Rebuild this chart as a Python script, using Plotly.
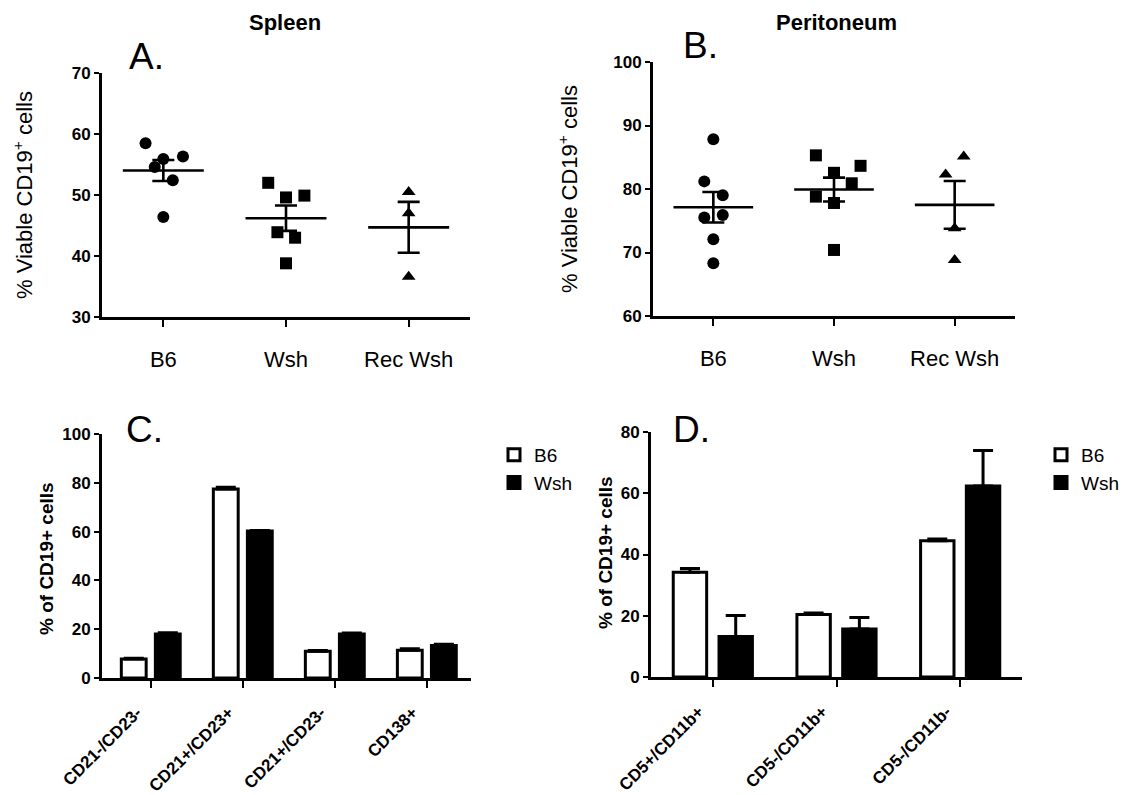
import numpy as np
import plotly.graph_objects as go

# ---------------- data ----------------
groups = ["B6", "Wsh", "Rec Wsh"]

# Panel A: Spleen, % viable CD19+ cells
spleen_b6 = [58.5, 55.9, 54.6, 56.3, 52.4, 46.4]
spleen_wsh = [52.0, 49.6, 49.9, 43.9, 43.0, 38.8]
spleen_rec = [50.5, 47.0, 36.6]
spleen_b6_jit = [-0.145, 0.0, -0.07, 0.16, 0.077, 0.0]
spleen_wsh_jit = [-0.145, 0.0, 0.15, -0.07, 0.074, 0.0]
spleen_rec_jit = [0.0, 0.0, 0.0]

# Panel B: Peritoneum, % viable CD19+ cells
perit_b6 = [87.85, 81.2, 79.0, 75.5, 75.9, 72.1, 68.3]
perit_wsh = [85.3, 82.55, 83.65, 80.9, 78.8, 77.8, 70.4]
perit_rec = [85.1, 82.3, 73.8, 68.8]
perit_b6_jit = [0.0, -0.075, 0.078, -0.075, 0.078, 0.0, 0.0]
perit_wsh_jit = [-0.15, 0.0, 0.22, 0.147, -0.15, 0.0, 0.0]
perit_rec_jit = [0.075, -0.075, 0.0, 0.0]

# Panel C: spleen subsets, % of CD19+ cells (mean, upper SEM)
spleen_subsets = ["CD21-/CD23-", "CD21+/CD23+", "CD21+/CD23-", "CD138+"]
spleen_b6_pct = [7.8, 77.5, 11.0, 11.4]
spleen_b6_err = [0.3, 0.7, 0.3, 0.6]
spleen_wsh_pct = [18.0, 60.2, 18.0, 13.3]
spleen_wsh_err = [0.5, 0.2, 0.4, 0.5]

# Panel D: peritoneal subsets, % of CD19+ cells (mean, upper SEM)
perit_subsets = ["CD5+/CD11b+", "CD5-/CD11b+", "CD5-/CD11b-"]
perit_b6_pct = [34.2, 20.4, 44.5]
perit_b6_err = [1.2, 0.5, 0.6]
perit_wsh_pct = [13.2, 15.7, 62.4]
perit_wsh_err = [6.9, 3.7, 11.6]

# ---------------- layout helpers ----------------
W, H = 1129, 795
FONT = "Liberation Sans, Arial, Helvetica, sans-serif"


def fx(p):
    return p / W


def fy(p):
    return 1 - p / H


fig = go.Figure()


def add_dot_panel(series, jitters, symbols, xa, ya):
    for i, (vals, jit, sym) in enumerate(zip(series, jitters, symbols)):
        xs = [i + j for j in jit]
        fig.add_trace(go.Scatter(
            x=xs, y=vals, mode="markers", xaxis=xa, yaxis=ya,
            marker=dict(symbol=sym, size=12, color="black", line=dict(width=0)),
            showlegend=False, name=groups[i]))
        arr = np.asarray(vals, dtype=float)
        mean = float(arr.mean())
        sem = float(arr.std(ddof=1) / np.sqrt(len(arr)))
        fig.add_trace(go.Scatter(
            x=[i], y=[mean], mode="markers", xaxis=xa, yaxis=ya,
            marker=dict(size=2, color="rgba(0,0,0,0)"),
            error_x=dict(type="constant", value=0.33, width=0, thickness=2.6, color="black"),
            error_y=dict(type="constant", value=sem, width=11, thickness=2.6, color="black"),
            showlegend=False, name=groups[i] + " mean"))


add_dot_panel([spleen_b6, spleen_wsh, spleen_rec],
              [spleen_b6_jit, spleen_wsh_jit, spleen_rec_jit],
              ["circle", "square", "triangle-up"], "x", "y")
add_dot_panel([perit_b6, perit_wsh, perit_rec],
              [perit_b6_jit, perit_wsh_jit, perit_rec_jit],
              ["circle", "square", "triangle-up"], "x2", "y2")


def add_bar_panel(cats, b6, b6e, wsh, wshe, xa, ya, legend):
    fig.add_trace(go.Bar(
        x=cats, y=b6, name="B6", xaxis=xa, yaxis=ya, legend=legend,
        marker=dict(color="white", line=dict(color="black", width=3)),
        error_y=dict(type="data", array=b6e, arrayminus=[0] * len(b6e), symmetric=False,
                     width=10, thickness=3, color="black")))
    fig.add_trace(go.Bar(
        x=cats, y=wsh, name="Wsh", xaxis=xa, yaxis=ya, legend=legend,
        marker=dict(color="black", line=dict(color="black", width=3)),
        error_y=dict(type="data", array=wshe, arrayminus=[0] * len(wshe), symmetric=False,
                     width=10, thickness=3, color="black")))


add_bar_panel(spleen_subsets, spleen_b6_pct, spleen_b6_err, spleen_wsh_pct, spleen_wsh_err,
              "x3", "y3", "legend")
add_bar_panel(perit_subsets, perit_b6_pct, perit_b6_err, perit_wsh_pct, perit_wsh_err,
              "x4", "y4", "legend2")

axis_common = dict(showline=True, linecolor="black", linewidth=3, showgrid=False,
                   zeroline=False, ticks="outside", tickcolor="black", tickwidth=2,
                   mirror=False, automargin=False, layer="above traces")

xcat = dict(axis_common, tickmode="array", tickvals=[0, 1, 2], ticktext=groups,
            range=[-0.5, 2.5], ticklen=7, tickfont=dict(family=FONT, size=22, color="black"),
            ticklabelstandoff=14)
ybold = dict(family=FONT, size=17, color="black", weight="bold")
xrot = dict(family=FONT, size=17, color="black", weight="bold")

fig.update_layout(
    template="none",
    width=W, height=H, margin=dict(l=0, r=0, t=0, b=0, autoexpand=False),
    paper_bgcolor="white", plot_bgcolor="white",
    font=dict(family=FONT, color="black"),
    barmode="group", bargap=0.26, bargroupgap=0.27,
    xaxis=dict(xcat, domain=[fx(102), fx(470)], anchor="y"),
    yaxis=dict(axis_common, domain=[fy(317), fy(73)], anchor="x", range=[30, 70],
               tickvals=[30, 40, 50, 60, 70], ticklen=5, tickfont=ybold),
    xaxis2=dict(xcat, domain=[fx(653), fx(1015)], anchor="y2"),
    yaxis2=dict(axis_common, domain=[fy(316), fy(62)], anchor="x2", range=[60, 100],
                tickvals=[60, 70, 80, 90, 100], ticklen=5, tickfont=ybold),
    xaxis3=dict(axis_common, domain=[fx(102), fx(471)], anchor="y3", type="category",
                range=[-0.53, 3.48], ticklen=7, tickangle=-45, tickfont=xrot,
                ticklabelstandoff=8, ticklabelshift=-14),
    yaxis3=dict(axis_common, domain=[fy(678), fy(434)], anchor="x3", range=[0, 100],
                tickvals=[0, 20, 40, 60, 80, 100], ticklen=5, tickfont=ybold),
    xaxis4=dict(axis_common, domain=[fx(651), fx(1022)], anchor="y4", type="category",
                range=[-0.5, 2.5], ticklen=7, tickangle=-45, tickfont=xrot,
                ticklabelstandoff=8, ticklabelshift=-14),
    yaxis4=dict(axis_common, domain=[fy(677), fy(432)], anchor="x4", range=[0, 80],
                tickvals=[0, 20, 40, 60, 80], ticklen=5, tickfont=ybold),
    legend=dict(x=fx(494), y=fy(436), xanchor="left", yanchor="top",
                font=dict(family=FONT, size=19, color="black"),
                bgcolor="rgba(0,0,0,0)", itemwidth=30, tracegroupgap=0),
    legend2=dict(x=fx(1041), y=fy(436), xanchor="left", yanchor="top",
                 font=dict(family=FONT, size=19, color="black"),
                 bgcolor="rgba(0,0,0,0)", itemwidth=30, tracegroupgap=0),
    showlegend=True,
)

annotations = [
    # panel titles
    dict(text="<b>Spleen</b>", x=fx(285), y=fy(23), font=dict(size=22)),
    dict(text="<b>Peritoneum</b>", x=fx(836), y=fy(23), font=dict(size=22)),
    # panel letters
    dict(text="A.", x=fx(127), y=fy(57), xanchor="left", font=dict(size=37)),
    dict(text="B.", x=fx(681), y=fy(46), xanchor="left", font=dict(size=37)),
    dict(text="C.", x=fx(124), y=fy(429), xanchor="left", font=dict(size=37)),
    dict(text="D.", x=fx(671), y=fy(429), xanchor="left", font=dict(size=37)),
    # y axis titles
    dict(text="% Viable CD19<sup>+</sup> cells", x=fx(23), y=fy(195), textangle=-90,
         font=dict(size=22)),
    dict(text="% Viable CD19<sup>+</sup> cells", x=fx(568), y=fy(189), textangle=-90,
         font=dict(size=22)),
    dict(text="<b>% of CD19+ cells</b>", x=fx(46), y=fy(559), textangle=-90,
         font=dict(size=19)),
    dict(text="<b>% of CD19+ cells</b>", x=fx(605), y=fy(553), textangle=-90,
         font=dict(size=19)),
]
for a in annotations:
    a.setdefault("xanchor", "center")
    a.setdefault("yanchor", "middle")
    a["xref"] = "paper"
    a["yref"] = "paper"
    a["showarrow"] = False
    a["font"] = dict(a["font"], family=FONT, color="black")
fig.update_layout(annotations=annotations)

fig.write_html("out.html")
